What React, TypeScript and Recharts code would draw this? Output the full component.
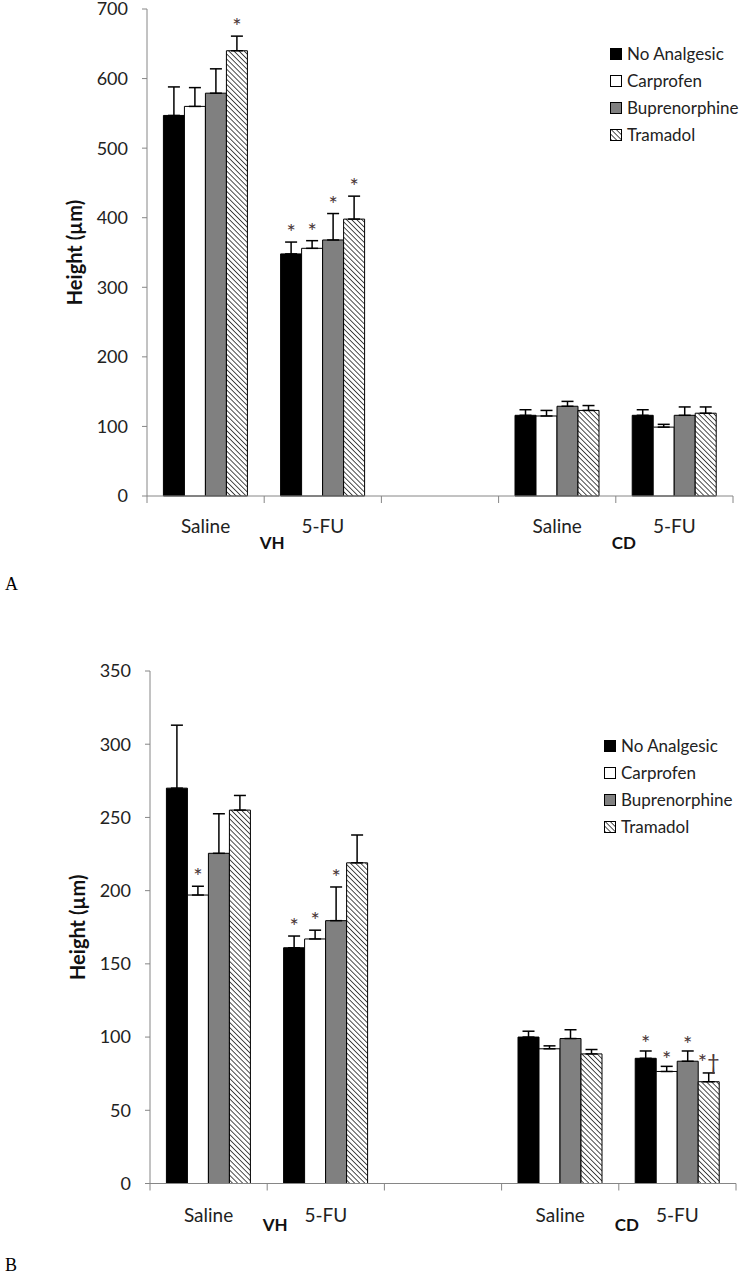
import React from "react";
import { BarChart, Bar, XAxis, YAxis, ErrorBar, LabelList, Legend } from "recharts";

const categories = ["Saline", "5-FU", "", "Saline", "5-FU"];
// group name drawn at the left edge of this slot
const groups = ["", "VH", "", "", "CD"];
const seriesNames = ["No Analgesic", "Carprofen", "Buprenorphine", "Tramadol"];

// Panel A
const aNoAnalgesic = [547, 348, null, 116, 116];
const aCarprofen = [560, 356, null, 115, 99];
const aBuprenorphine = [579, 368, null, 129, 116];
const aTramadol = [640, 398, null, 123, 119];
const aNoAnalgesicErr = [41, 17, null, 8, 8];
const aCarprofenErr = [27, 11, null, 8, 4];
const aBuprenorphineErr = [35, 38, null, 7, 12];
const aTramadolErr = [21, 33, null, 7, 9];
const aNoAnalgesicMark = ["", "*", "", "", ""];
const aCarprofenMark = ["", "*", "", "", ""];
const aBuprenorphineMark = ["", "*", "", "", ""];
const aTramadolMark = ["*", "*", "", "", ""];
const aTicks = [0, 100, 200, 300, 400, 500, 600, 700];

// Panel B
const bNoAnalgesic = [270, 161, null, 100, 85.5];
const bCarprofen = [197, 167, null, 92, 76.5];
const bBuprenorphine = [225.5, 179.5, null, 99, 83.5];
const bTramadol = [255, 219, null, 88.5, 69.5];
const bNoAnalgesicErr = [43, 8, null, 4, 5];
const bCarprofenErr = [6, 6, null, 2, 3.5];
const bBuprenorphineErr = [27, 23, null, 6, 7];
const bTramadolErr = [10, 19, null, 3, 6];
const bNoAnalgesicMark = ["", "*", "", "", "*"];
const bCarprofenMark = ["*", "*", "", "", "*"];
const bBuprenorphineMark = ["", "*", "", "", "*"];
const bTramadolMark = ["", "", "", "", "*\u2020"];
const bTicks = [0, 50, 100, 150, 200, 250, 300, 350];

const FONT = "Lato, 'Noto Sans', sans-serif";
const AXIS = "#868686";
const fills = ["#000000", "#ffffff", "#808080", "hatch"];

type Num = number | null;

const Hatch = ({ id }: { id: string }) => (
  <pattern id={id} patternUnits="userSpaceOnUse" width={3.6} height={3.6} patternTransform="rotate(-45)">
    <rect width={3.6} height={3.6} fill="#ffffff" />
    <line x1={0} y1={0} x2={0} y2={3.6} stroke="#222" strokeWidth={1.6} />
  </pattern>
);

const CategoryTick = (props: any) => {
  const { x, y, payload, index, band, catDy, groupDy } = props;
  const left = x - band / 2;
  return (
    <g>
      <line x1={left} y1={y} x2={left} y2={y + 7} stroke={AXIS} />
      {index === categories.length - 1 && (
        <line x1={x + band / 2} y1={y} x2={x + band / 2} y2={y + 7} stroke={AXIS} />
      )}
      <text x={x} y={y + catDy} textAnchor="middle" fontFamily={FONT} fontSize={19} fill="#222">
        {payload.value}
      </text>
      {groups[index] && (
        <text x={left + 8} y={y + groupDy} textAnchor="middle" fontFamily={FONT} fontSize={17} fontWeight="bold" fill="#111">
          {groups[index]}
        </text>
      )}
    </g>
  );
};

const makeMark = (means: Num[], errs: Num[]) => (props: any) => {
  const { x, y, width, height, value, index } = props;
  if (!value) return null;
  const mean = means[index] ?? 0;
  const err = errs[index] ?? 0;
  const errPx = mean ? (err * height) / mean : 0;
  const lift = String(value).length > 1 ? 8 : 2;
  return (
    <text x={x + width / 2} y={y - errPx - lift} textAnchor="middle" fontFamily={FONT} fontSize={22} fill="#4a3636">
      {value}
    </text>
  );
};

const LegendBox = ({ id }: { id: string }) => (
  <div style={{ fontFamily: FONT, fontSize: 17, color: "#222" }}>
    {seriesNames.map((name, i) => (
      <div key={name} style={{ display: "flex", alignItems: "center", height: 27 }}>
        <svg width={12} height={12} style={{ marginRight: 5 }}>
          <defs>
            <Hatch id={id + "-lg"} />
          </defs>
          <rect x={0.5} y={0.5} width={11} height={11} stroke="#000"
            fill={fills[i] === "hatch" ? `url(#${id}-lg)` : fills[i]} />
        </svg>
        <span>{name}</span>
      </div>
    ))}
  </div>
);

type PanelProps = {
  id: string;
  means: Num[][];
  errs: Num[][];
  marks: string[][];
  ticks: number[];
  height: number;
  margin: { top: number; right: number; bottom: number; left: number };
  legendPos: { left: number; top: number };
  catDy: number;
  groupDy: number;
};

const Panel = ({ id, means, errs, marks, ticks, height, margin, legendPos, catDy, groupDy }: PanelProps) => {
  const width = 742;
  const yAxisWidth = 80;
  const band = (width - margin.left - margin.right - yAxisWidth) / categories.length;
  const data = categories.map((name, i) => {
    const row: any = { name };
    means.forEach((m, s) => {
      row["s" + s] = m[i];
      row["e" + s] = errs[s][i] == null ? null : [0, errs[s][i]];
      row["m" + s] = marks[s][i];
    });
    return row;
  });
  return (
    <BarChart width={width} height={height} data={data} margin={margin} barGap={0} barCategoryGap="14%"
      style={{ overflow: "visible" }}>
      <defs>
        <Hatch id={id} />
      </defs>
      <XAxis
        dataKey="name"
        interval={0}
        height={56}
        tickLine={false}
        tickSize={0}
        tickMargin={0}
        axisLine={{ stroke: AXIS }}
        tick={(p: any) => <CategoryTick {...p} band={band} catDy={catDy} groupDy={groupDy} />}
      />
      <YAxis
        domain={[ticks[0], ticks[ticks.length - 1]]}
        ticks={ticks}
        interval={0}
        width={yAxisWidth}
        tickSize={5}
        tickMargin={14}
        axisLine={{ stroke: AXIS }}
        tickLine={{ stroke: AXIS }}
        tick={{ fontFamily: FONT, fontSize: 18, fill: "#222" }}
        label={{
          value: "Height (\u00b5m)",
          angle: -90,
          position: "insideLeft",
          offset: 8,
          style: { textAnchor: "middle", fontFamily: FONT, fontSize: 20, fontWeight: "bold", fill: "#111" },
        }}
      />
      <Legend
        layout="vertical"
        align="center"
        verticalAlign="middle"
        wrapperStyle={{ left: legendPos.left, top: legendPos.top, width: 140 }}
        content={() => <LegendBox id={id} />}
      />
      {means.map((m, s) => (
        <Bar
          key={s}
          dataKey={"s" + s}
          name={seriesNames[s]}
          fill={fills[s] === "hatch" ? `url(#${id})` : fills[s]}
          stroke="#000"
          strokeWidth={1}
          isAnimationActive={false}
        >
          <ErrorBar dataKey={"e" + s} direction="y" width={6} stroke="#000" strokeWidth={1.5} />
          <LabelList dataKey={"m" + s} content={makeMark(m, errs[s])} />
        </Bar>
      ))}
    </BarChart>
  );
};

export default function App() {
  return (
    <div style={{ position: "absolute", left: 0, top: 0, width: 742, height: 1274, background: "#fff" }}>
      <div style={{ position: "absolute", left: 0, top: 1 }}>
        <Panel
          id="hatchA"
          means={[aNoAnalgesic, aCarprofen, aBuprenorphine, aTramadol]}
          errs={[aNoAnalgesicErr, aCarprofenErr, aBuprenorphineErr, aTramadolErr]}
          marks={[aNoAnalgesicMark, aCarprofenMark, aBuprenorphineMark, aTramadolMark]}
          ticks={aTicks}
          height={560}
          margin={{ top: 8, right: 9, bottom: 9, left: 67 }}
          legendPos={{ left: 610, top: 39 }}
          catDy={37}
          groupDy={53}
        />
      </div>
      <div style={{ position: "absolute", left: 5, top: 575, fontFamily: "'Liberation Serif', serif", fontSize: 18, lineHeight: "18px" }}>A</div>
      <div style={{ position: "absolute", left: 0, top: 600 }}>
        <Panel
          id="hatchB"
          means={[bNoAnalgesic, bCarprofen, bBuprenorphine, bTramadol]}
          errs={[bNoAnalgesicErr, bCarprofenErr, bBuprenorphineErr, bTramadolErr]}
          marks={[bNoAnalgesicMark, bCarprofenMark, bBuprenorphineMark, bTramadolMark]}
          ticks={bTicks}
          height={674}
          margin={{ top: 71, right: 6, bottom: 34.5, left: 70 }}
          legendPos={{ left: 604, top: 132 }}
          catDy={38}
          groupDy={47}
        />
      </div>
      <div style={{ position: "absolute", left: 5, top: 1256, fontFamily: "'Liberation Serif', serif", fontSize: 18, lineHeight: "18px" }}>B</div>
    </div>
  );
}
